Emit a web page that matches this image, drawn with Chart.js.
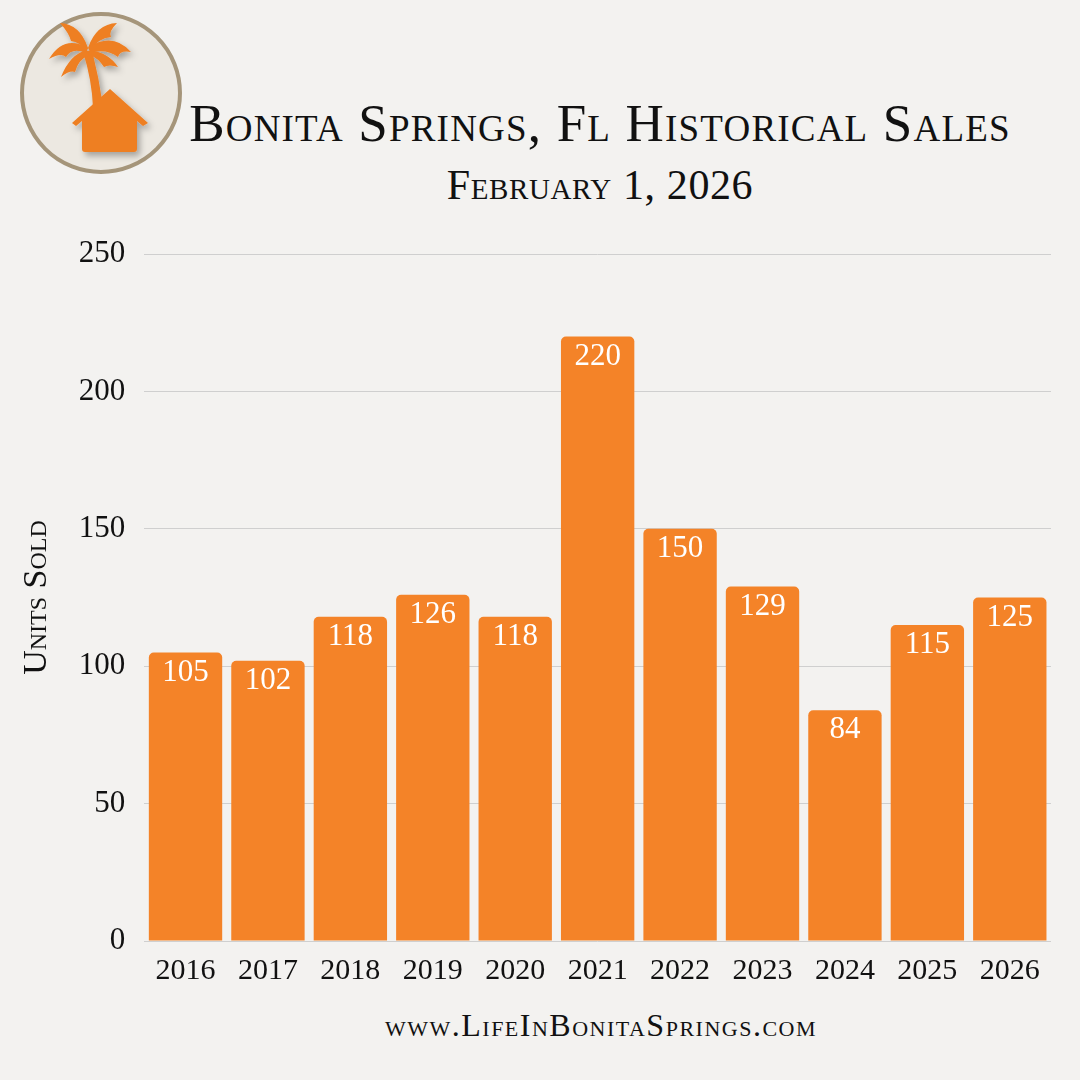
<!DOCTYPE html>
<html><head><meta charset="utf-8">
<script src="https://cdn.jsdelivr.net/npm/chart.js@4"></script>
<style>
html,body{margin:0;padding:0;background:#F3F2F0;}
#wrap{position:relative;width:1080px;height:1080px;overflow:hidden;background:#F3F2F0;}
#c{position:absolute;left:0;top:0;}
.t{position:absolute;text-align:center;font-family:"Liberation Serif",serif;font-variant:small-caps;color:#111;white-space:nowrap;}
#title{top:93px;left:100px;width:1000px;font-size:53px;letter-spacing:1.2px;}
#sub{top:161px;left:100px;width:1000px;font-size:42px;letter-spacing:0.6px;}
#foot{top:1007px;left:61px;width:1080px;font-size:32px;letter-spacing:1.5px;}
#logo{position:absolute;left:17px;top:10px;}
</style></head>
<body><div id="wrap">
<svg id="logo" width="170" height="170" viewBox="17 10 170 170">
<defs><filter id="sh" x="-20%" y="-20%" width="150%" height="150%"><feDropShadow dx="3" dy="4" stdDeviation="3" flood-color="#000" flood-opacity="0.3"/></filter></defs>
<circle cx="101" cy="93" r="79" fill="#ECE8E1" stroke="#A5957A" stroke-width="4"/>
<g fill="#EE7F22" filter="url(#sh)">
<path d="M83,52 Q92,80 93,108 L103,106 Q99,78 92,50 Z"/>
<path d="M88,48 Q80,24 60,23 Q69,33 71,41 Q80,42 86,51 Z"/>
<path d="M88,48 Q64,34 49,59 Q61,52 66,57 Q72,47 86,53 Z"/>
<path d="M87,50 Q70,54 61,77 Q70,70 75,72 Q78,60 89,55 Z"/>
<path d="M88,48 Q96,24 117,23 Q108,32 111,37 Q98,38 90,51 Z"/>
<path d="M89,47 Q113,32 131,52 Q120,50 118,57 Q106,48 90,53 Z"/>
<path d="M90,50 Q109,53 118,67 Q109,64 104,67 Q98,58 90,55 Z"/>
<path d="M72,123 L110,89 L148,123 L143,126 L137,121 L137,149 Q137,152 134,152 L85,152 Q82,152 82,149 L82,121 L76,126 Z"/>
</g>
</svg>
<div class="t" id="title">Bonita Springs, Fl Historical Sales</div>
<div class="t" id="sub">February 1, 2026</div>
<div class="t" id="foot">www.LifeInBonitaSprings.com</div>
<canvas id="c" width="1080" height="1080"></canvas>
</div>
<script>
const years = ['2016','2017','2018','2019','2020','2021','2022','2023','2024','2025','2026'];
const unitsSold = [105,102,118,126,118,220,150,129,84,115,125];
const yTicks = [0,50,100,150,200,250];

const valueLabels = {
  id:'valueLabels',
  afterDatasetsDraw(chart){
    const ctx = chart.ctx;
    const meta = chart.getDatasetMeta(0);
    ctx.save();
    ctx.fillStyle = '#ffffff';
    ctx.font = '31px "Liberation Serif", serif';
    ctx.textAlign = 'center';
    ctx.textBaseline = 'middle';
    meta.data.forEach((bar,i)=>{
      ctx.fillText(String(chart.data.datasets[0].data[i]), bar.x, bar.y + 20);
    });
    ctx.restore();
  }
};

new Chart(document.getElementById('c'), {
  type:'bar',
  data:{labels:years, datasets:[{data:unitsSold, backgroundColor:'#F48328', borderRadius:5, borderSkipped:'start', barPercentage:0.89, categoryPercentage:1.0}]},
  options:{
    responsive:false, animation:false, devicePixelRatio:1,
    layout:{padding:{top:254,right:29,bottom:87,left:17}},
    plugins:{legend:{display:false},tooltip:{enabled:false}},
    scales:{
      x:{grid:{display:false},border:{display:false},
         ticks:{color:'#111',font:{family:'"Liberation Serif", serif',size:30},padding:4,maxRotation:0}},
      y:{min:0,max:250,
         afterBuildTicks(axis){axis.ticks = yTicks.map(v=>({value:v}));},
         grid:{color:'#CFCFCF',lineWidth:1,drawTicks:false},border:{display:false},
         ticks:{color:'#111',font:{family:'"Liberation Serif", serif',size:31},padding:19},
         title:{display:true,text:'Units Sold',color:'#111',font:{family:'"Liberation Serif", serif',size:34,weight:'small-caps'},padding:{top:0,bottom:2}}}
    }
  },
  plugins:[valueLabels]
});
</script>
</body></html>
